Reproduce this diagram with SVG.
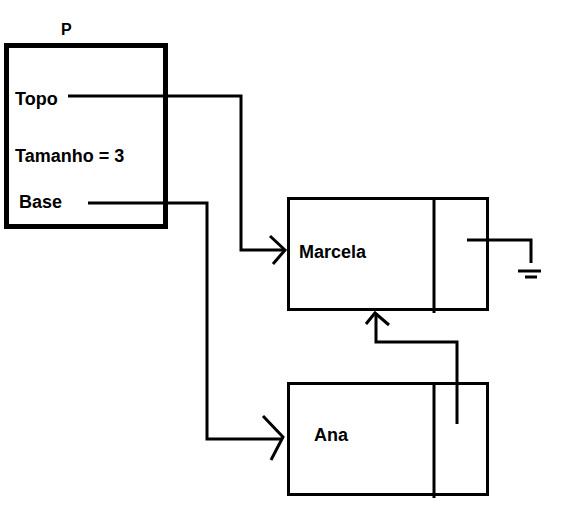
<svg xmlns="http://www.w3.org/2000/svg" width="561" height="514" viewBox="0 0 561 514">
<style>
text{font-family:"Liberation Sans",Arial,sans-serif;font-weight:bold;font-size:18px;fill:#000}
.ln{fill:none;stroke:#000;stroke-width:3;stroke-linecap:butt;stroke-linejoin:miter}
.box{fill:#fff;stroke:#000;stroke-width:3}
</style>
<rect width="561" height="514" fill="#fff"/>
<g id="stack">
<rect x="6.5" y="45.5" width="159" height="181" fill="#fff" stroke="#000" stroke-width="5"/>
<text x="61" y="35" style="font-size:16px">P</text>
<text x="15" y="105">Topo</text>
<text x="15" y="162">Tamanho = 3</text>
<text x="19" y="208">Base</text>
</g>
<g id="marcela">
<rect class="box" x="288.5" y="198.5" width="199" height="111"/>
<line class="ln" x1="434" y1="198" x2="434" y2="313"/>
<text x="299" y="258">Marcela</text>
</g>
<g id="ana">
<rect class="box" x="288.5" y="383.5" width="199" height="111"/>
<line class="ln" x1="434" y1="383" x2="434" y2="498"/>
<text x="314" y="441">Ana</text>
</g>
<g id="connectors">
<polyline class="ln" points="68,96 241,96 241,250 284,250"/>
<polyline class="ln" points="270,236 285,250 273,264"/>
<polyline class="ln" points="88,203 207,203 207,439 282,439"/>
<polyline class="ln" points="263,416 283,437 271,460"/>
<polyline class="ln" points="457,424 457,342 376,342 376,313"/>
<polyline class="ln" points="366,324 375,313 389,325"/>
<polyline class="ln" points="467,240 531,240 531,263"/>
<line class="ln" x1="518" y1="271" x2="541" y2="271"/>
<line class="ln" x1="525" y1="277" x2="537" y2="277"/>
</g>
</svg>
